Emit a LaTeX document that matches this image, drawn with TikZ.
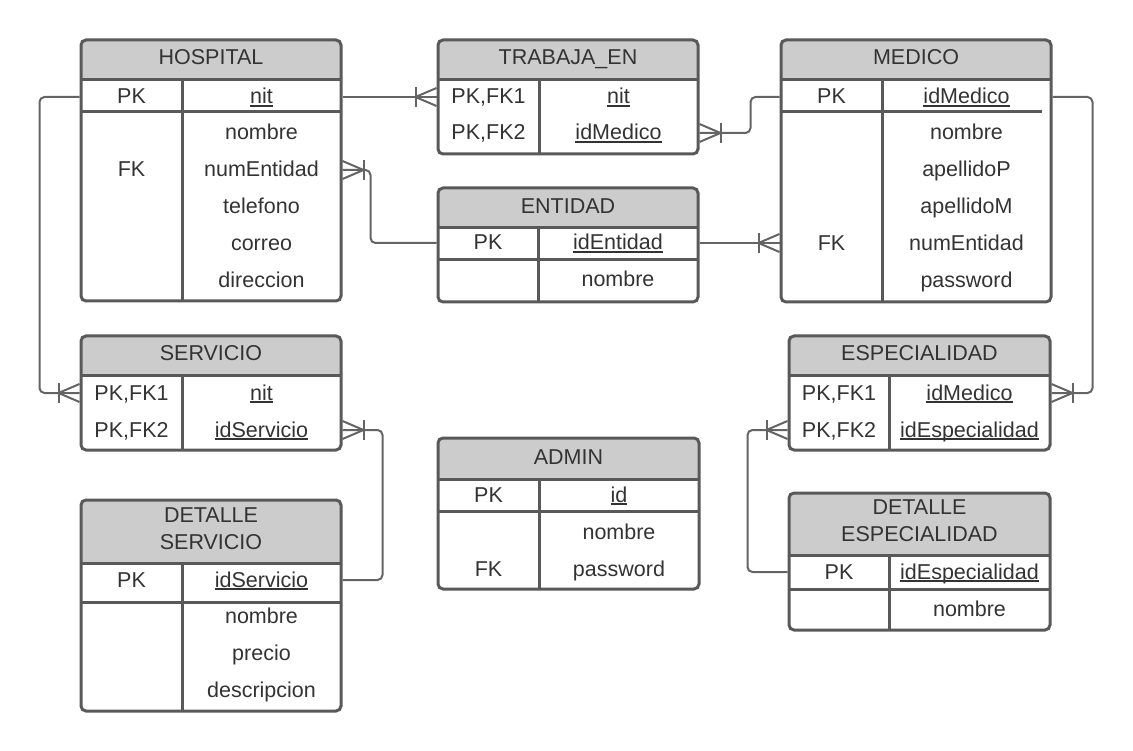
\documentclass[tikz,border=0pt]{standalone}
\usepackage{fontspec}
\setmainfont{Liberation Sans}
\usepackage{tikz}

\definecolor{linegray}{RGB}{89,89,89}
\definecolor{wiregray}{RGB}{100,100,100}
\definecolor{headgray}{RGB}{204,204,204}
\definecolor{inkgray}{RGB}{51,51,51}

\newsavebox{\keybox}
\newcommand{\pkey}[1]{\sbox{\keybox}{#1}\rlap{\rule[-3pt]{\wd\keybox}{1.8pt}}\usebox{\keybox}}

\tikzset{
  tablebox/.style={draw=linegray, line width=3pt, rounded corners=5pt, inner sep=0pt},
  tableline/.style={draw=linegray, line width=3pt},
  header/.style={fill=headgray},
  field/.style={text=inkgray, font=\fontsize{21.5}{27}\selectfont, inner sep=0pt, text height=18pt, text depth=4pt},
  title/.style={field},
  titletwo/.style={text=inkgray, font=\fontsize{21.5}{27}\selectfont, inner sep=0pt, align=center},
  connector/.style={draw=wiregray, line width=2pt, line join=round},
  crow/.pic={
    \draw[connector] (-21,-10) -- (-21,10);
    \draw[connector] (0,-9) -- (-21,0) -- (0,9);
  }
}

\begin{document}
\begin{tikzpicture}[x=1pt, y=-1pt]

\useasboundingbox (0,0) rectangle (1133,751);

\fill[header, rounded corners=5pt] (81,40) rectangle (341,80);
\fill[header] (81,70) rectangle (341,80);
\node[tablebox, minimum width=260pt, minimum height=261pt] (hospital) at (211,170.5) {};
\draw[tableline] (81,80) -- (341,80);
\draw[tableline] (81,112) -- (341,112);
\draw[tableline] (182,80) -- (182,301);
\node[title] (hospital-title) at (211,58) {HOSPITAL};
\node[field] (hospital-pk) at (131.5,97) {PK};
\node[field] (hospital-nit) at (261.5,97) {\pkey{nit}};
\node[field] (hospital-fk) at (131.5,170) {FK};
\node[field] (hospital-nombre) at (261.5,133) {nombre};
\node[field] (hospital-nument) at (261.5,170) {numEntidad};
\node[field] (hospital-tel) at (261.5,207) {telefono};
\node[field] (hospital-correo) at (261.5,244) {correo};
\node[field] (hospital-dir) at (261.5,281) {direccion};

\fill[header, rounded corners=5pt] (438,40) rectangle (698,80);
\fill[header] (438,70) rectangle (698,80);
\node[tablebox, minimum width=260pt, minimum height=114pt] (trabaja) at (568,97) {};
\draw[tableline] (438,80) -- (698,80);
\draw[tableline] (539,80) -- (539,154);
\node[title] (trabaja-title) at (568,58) {TRABAJA\_EN};
\node[field] (trabaja-pk1) at (488.5,97) {PK,FK1};
\node[field] (trabaja-nit) at (618.5,97) {\pkey{nit}};
\node[field] (trabaja-pk2) at (488.5,133) {PK,FK2};
\node[field] (trabaja-idmed) at (618.5,133) {\pkey{idMedico}};

\fill[header, rounded corners=5pt] (438,188) rectangle (698,228);
\fill[header] (438,218) rectangle (698,228);
\node[tablebox, minimum width=260pt, minimum height=114pt] (entidad) at (568,245) {};
\draw[tableline] (438,228) -- (698,228);
\draw[tableline] (438,260) -- (698,260);
\draw[tableline] (538,228) -- (538,302);
\node[title] (entidad-title) at (568,207) {ENTIDAD};
\node[field] (entidad-pk) at (488,243) {PK};
\node[field] (entidad-id) at (618,243) {\pkey{idEntidad}};
\node[field] (entidad-nombre) at (618,280) {nombre};

\fill[header, rounded corners=5pt] (781,40) rectangle (1051,80);
\fill[header] (781,70) rectangle (1051,80);
\node[tablebox, minimum width=270pt, minimum height=262pt] (medico) at (916,171) {};
\draw[tableline] (781,80) -- (1051,80);
\draw[tableline] (781,112) -- (1042,112);
\draw[tableline] (882,80) -- (882,302);
\node[title] (medico-title) at (916,58) {MEDICO};
\node[field] (medico-pk) at (831.5,97) {PK};
\node[field] (medico-id) at (966.5,97) {\pkey{idMedico}};
\node[field] (medico-fk) at (831.5,244) {FK};
\node[field] (medico-nombre) at (966.5,133) {nombre};
\node[field] (medico-apep) at (966.5,170) {apellidoP};
\node[field] (medico-apem) at (966.5,207) {apellidoM};
\node[field] (medico-nument) at (966.5,244) {numEntidad};
\node[field] (medico-pass) at (966.5,281) {password};

\fill[header, rounded corners=5pt] (81,336) rectangle (341,376);
\fill[header] (81,366) rectangle (341,376);
\node[tablebox, minimum width=260pt, minimum height=114pt] (servicio) at (211,393) {};
\draw[tableline] (81,376) -- (341,376);
\draw[tableline] (182,376) -- (182,450);
\node[title] (servicio-title) at (211,354) {SERVICIO};
\node[field] (servicio-pk1) at (131.5,393) {PK,FK1};
\node[field] (servicio-nit) at (261.5,393) {\pkey{nit}};
\node[field] (servicio-pk2) at (131.5,430) {PK,FK2};
\node[field] (servicio-idserv) at (261.5,430) {\pkey{idServicio}};

\fill[header, rounded corners=5pt] (81,500) rectangle (341,563);
\fill[header] (81,540) rectangle (341,563);
\node[tablebox, minimum width=260pt, minimum height=211pt] (detserv) at (211,605.5) {};
\draw[tableline] (81,563) -- (341,563);
\draw[tableline] (81,602) -- (341,602);
\draw[tableline] (182,563) -- (182,711);
\node[titletwo] (detserv-title) at (211,528.5) {DETALLE\\SERVICIO};
\node[field] (detserv-pk) at (131.5,580) {PK};
\node[field] (detserv-id) at (261.5,580) {\pkey{idServicio}};
\node[field] (detserv-nombre) at (261.5,616) {nombre};
\node[field] (detserv-precio) at (261.5,653) {precio};
\node[field] (detserv-desc) at (261.5,690) {descripcion};

\fill[header, rounded corners=5pt] (789,336) rectangle (1050,376);
\fill[header] (789,366) rectangle (1050,376);
\node[tablebox, minimum width=261pt, minimum height=114pt] (especialidad) at (919.5,393) {};
\draw[tableline] (789,376) -- (1050,376);
\draw[tableline] (889,376) -- (889,450);
\node[title] (especialidad-title) at (919.5,354) {ESPECIALIDAD};
\node[field] (especialidad-pk1) at (839,393) {PK,FK1};
\node[field] (especialidad-idmed) at (969.5,393) {\pkey{idMedico}};
\node[field] (especialidad-pk2) at (839,430) {PK,FK2};
\node[field] (especialidad-idesp) at (969.5,430) {\pkey{idEspecialidad}};

\fill[header, rounded corners=5pt] (789,493) rectangle (1050,555);
\fill[header] (789,530) rectangle (1050,555);
\node[tablebox, minimum width=261pt, minimum height=137pt] (detesp) at (919.5,561.5) {};
\draw[tableline] (789,555) -- (1050,555);
\draw[tableline] (789,589) -- (1050,589);
\draw[tableline] (889,555) -- (889,630);
\node[titletwo] (detesp-title) at (919.5,521) {DETALLE\\ESPECIALIDAD};
\node[field] (detesp-pk) at (839,572) {PK};
\node[field] (detesp-id) at (969.5,572) {\pkey{idEspecialidad}};
\node[field] (detesp-nombre) at (969.5,609) {nombre};

\fill[header, rounded corners=5pt] (438,438) rectangle (699,479);
\fill[header] (438,469) rectangle (699,479);
\node[tablebox, minimum width=261pt, minimum height=151pt] (admin) at (568.5,513.5) {};
\draw[tableline] (438,479) -- (699,479);
\draw[tableline] (438,511) -- (699,511);
\draw[tableline] (539,479) -- (539,589);
\node[title] (admin-title) at (568.5,457) {ADMIN};
\node[field] (admin-pk) at (488.5,495) {PK};
\node[field] (admin-id) at (619,495) {\pkey{id}};
\node[field] (admin-nombre) at (619,532) {nombre};
\node[field] (admin-fk) at (488.5,569) {FK};
\node[field] (admin-pass) at (619,569) {password};

\draw[connector] (hospital.east |- hospital-nit) -- (trabaja.west |- trabaja-nit);
\pic at (trabaja.west |- trabaja-nit) {crow};

\draw[connector, rounded corners=5pt] (trabaja.east |- trabaja-idmed) -- ++(51,0) |- (medico.west |- medico-pk);
\pic[xscale=-1] at (trabaja.east |- trabaja-idmed) {crow};

\draw[connector, rounded corners=5pt] (entidad.west |- entidad-id) -- ++(-66,0) |- (hospital.east |- hospital-nument);
\pic[xscale=-1] at (hospital.east |- hospital-nument) {crow};

\draw[connector] (entidad.east |- entidad-id) -- (medico.west |- entidad-id);
\pic at (medico.west |- entidad-id) {crow};

\draw[connector, rounded corners=5pt] (hospital.west |- hospital-pk) -- ++(-40,0) |- (servicio.west |- servicio-nit);
\pic at (servicio.west |- servicio-nit) {crow};

\draw[connector, rounded corners=5pt] (detserv.east |- detserv-id) -- ++(40,0) |- (servicio.east |- servicio-idserv);
\pic[xscale=-1] at (servicio.east |- servicio-idserv) {crow};

\draw[connector, rounded corners=5pt] (medico.east |- medico-pk) -- ++(40,0) |- (especialidad.east |- especialidad-idmed);
\pic[xscale=-1] at (especialidad.east |- especialidad-idmed) {crow};

\draw[connector, rounded corners=5pt] (detesp.west |- detesp-id) -- ++(-40,0) |- (especialidad.west |- especialidad-idesp);
\pic at (especialidad.west |- especialidad-idesp) {crow};

\end{tikzpicture}
\end{document}
